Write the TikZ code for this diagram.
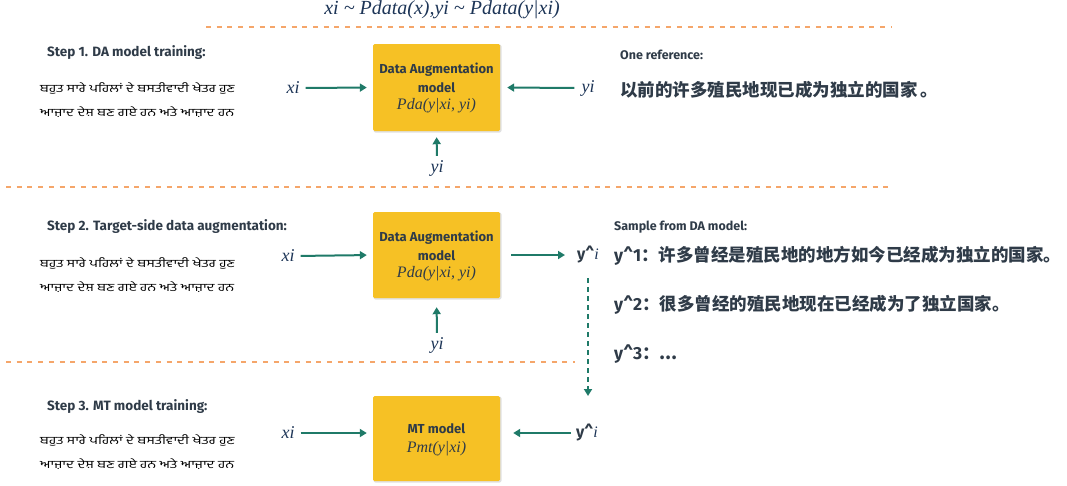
\documentclass[tikz,border=0pt]{standalone}
\usepackage{fontspec}
\setmainfont{Fira Sans}
\newfontfamily\cjk{Noto Sans CJK SC}
\newfontfamily\pa[Script=Gurmukhi,FakeStretch=1.32]{Hind Jalandhar}
\newfontfamily\mi{Liberation Serif}
\usetikzlibrary{arrows.meta}
\definecolor{tgreen}{HTML}{1F7A68}
\definecolor{tyellow}{HTML}{F6C125}
\definecolor{torange}{HTML}{F5A66A}
\definecolor{tdark}{HTML}{2F3B48}
\definecolor{tnavy}{HTML}{1D3557}
\newcommand{\mif}[1]{{\mi\itshape\fontsize{16}{19}\selectfont #1}}
\newcommand{\yhat}{\textbf{y\^{}}{\mi\itshape\color{tnavy}i}}
\begin{document}
\begin{tikzpicture}[x=1pt,y=-1pt,
  box/.style={fill=tyellow,rounded corners=1.5pt,minimum width=127pt,text=tdark,align=center,inner sep=0pt},
  shadowbox/.style={fill=black!12,rounded corners=2pt,minimum width=128pt,inner sep=0pt},
  boxtext/.style={text=tdark,align=center,inner sep=0pt,font=\fontsize{13}{19}\selectfont},
  sep/.style={draw=torange,line width=2pt,dash pattern=on 5pt off 5.7pt},
  arr/.style={draw=tgreen,line width=2pt,-{Triangle[length=7pt,width=8pt]}},
  darr/.style={draw=tgreen,line width=2pt,dash pattern=on 5pt off 4pt,-{Triangle[length=7pt,width=8pt]}},
  steplab/.style={anchor=west,text=tdark,font=\fontsize{13.5}{15}\selectfont\bfseries,inner sep=0pt},
  src/.style={anchor=west,text=black,font=\pa\fontsize{11}{24}\selectfont,align=left,inner sep=0pt},
  var/.style={text=tnavy,font=\mi\itshape\fontsize{18}{20}\selectfont,inner sep=1pt},
  hat/.style={text=tdark,font=\fontsize{16}{20}\selectfont,inner sep=1pt},
  rlab/.style={anchor=west,text=tdark,font=\fontsize{12.5}{14}\selectfont\bfseries,inner sep=0pt},
  zh/.style={anchor=west,text=tdark,font=\cjk\bfseries\fontsize{17.5}{20}\selectfont,inner sep=0pt}]
\useasboundingbox (0,0) rectangle (1067,485);

% formula
\node[text=tnavy,font=\mi\itshape\fontsize{20}{22}\selectfont,inner sep=0pt] (formula) at (442,10) {xi \char"007E{} Pdata(x),yi \char"007E{} Pdata(y|xi)};

% separators
\coordinate (s1a) at (206,27); \coordinate (s1b) at (892,27);
\coordinate (s2a) at (6,187);  \coordinate (s2b) at (892,187);
\coordinate (s3a) at (6,362);  \coordinate (s3b) at (575,362);
\draw[sep] (s1a) -- (s1b);
\draw[sep] (s2a) -- (s2b);
\draw[sep] (s3a) -- (s3b);

% step labels
\node[steplab] (st1) at (47,53) {Step 1. DA model training:};
\node[steplab] (st2) at (47,227) {Step 2. Target-side data augmentation:};
\node[steplab] (st3) at (47,407) {Step 3. MT model training:};

% source sentences
\node[src] (src1) at (40,100) {ਬਹੁਤ ਸਾਰੇ ਪਹਿਲਾਂ ਦੇ ਬਸਤੀਵਾਦੀ ਖੇਤਰ ਹੁਣ\\ਆਜ਼ਾਦ ਦੇਸ਼ ਬਣ ਗਏ ਹਨ ਅਤੇ ਆਜ਼ਾਦ ਹਨ};
\node[src] (src2) at (40,275) {ਬਹੁਤ ਸਾਰੇ ਪਹਿਲਾਂ ਦੇ ਬਸਤੀਵਾਦੀ ਖੇਤਰ ਹੁਣ\\ਆਜ਼ਾਦ ਦੇਸ਼ ਬਣ ਗਏ ਹਨ ਅਤੇ ਆਜ਼ਾਦ ਹਨ};
\node[src] (src3) at (40,452) {ਬਹੁਤ ਸਾਰੇ ਪਹਿਲਾਂ ਦੇ ਬਸਤੀਵਾਦੀ ਖੇਤਰ ਹੁਣ\\ਆਜ਼ਾਦ ਦੇਸ਼ ਬਣ ਗਏ ਹਨ ਅਤੇ ਆਜ਼ਾਦ ਹਨ};

% boxes
\node[shadowbox,minimum height=88pt] (sh1) at (437.5,88.5) {};
\node[box,minimum height=87pt] (da1) at (436.5,87.5) {};
\node[boxtext] (da1t) at (436.5,88) {\textbf{Data Augmentation}\\\textbf{model}\\[-2pt]\mif{Pda(y|xi, yi)}};
\node[shadowbox,minimum height=87pt] (sh2) at (437.5,256) {};
\node[box,minimum height=86pt] (da2) at (436.5,255) {};
\node[boxtext] (da2t) at (436.5,256) {\textbf{Data Augmentation}\\\textbf{model}\\[-2pt]\mif{Pda(y|xi, yi)}};
\node[shadowbox,minimum height=86pt] (sh3) at (437.5,439.5) {};
\node[box,minimum height=85pt] (mt) at (436.5,438.5) {};
\node[boxtext] (mtt) at (436.5,440) {\textbf{MT model}\\\mif{Pmt(y|xi)}};

% step 1 connectors
\node[var] (x1) at (293,88) {xi};
\node[var] (y1r) at (588,88) {yi};
\node[var] (y1b) at (437,168) {yi};
\draw[arr,shorten <=5pt,shorten >=6pt] (x1.east) -- (da1.west);
\draw[arr,shorten <=6pt,shorten >=7pt] (y1r.west) -- (da1.east);
\draw[arr,shorten <=3pt,shorten >=6pt] (y1b.north) -- (da1.south);

% step 2 connectors
\node[var] (x2) at (288,256) {xi};
\node[hat,anchor=west] (yh2) at (576,255) {\yhat};
\node[var] (y2b) at (437,345) {yi};
\draw[arr,shorten <=11pt,shorten >=11pt] (da2.east) -- (da2.east -| yh2.west);
\draw[arr,shorten <=5pt,shorten >=6pt] (x2.east) -- (da2.west);
\draw[arr,shorten <=3pt,shorten >=9pt] (y2b.north) -- (da2.south);

% step 3 connectors
\node[var] (x3) at (288,433) {xi};
\node[hat,anchor=west] (yh3) at (575,433) {\yhat};
\draw[arr,shorten <=5pt,shorten >=6pt] (x3.east) -- (x3.east -| mt.west);
\draw[arr,shorten <=4pt,shorten >=13pt] (yh3.west) -- (yh3.west -| mt.east);
\coordinate (dtop) at (588,278);
\coordinate (dbot) at (588,396);
\draw[darr] (dtop) -- (dbot);

% right side texts
\node[rlab] (oneref) at (620,55) {One reference:};
\node[zh] (ref) at (620,90) {以前的许多殖民地现已成为独立的国家\,。};
\node[rlab] (sample) at (614,227) {Sample from DA model:};
\node[zh] (s1) at (614,256) {{\fontspec{Fira Sans}\bfseries y\^{}1}：许多曾经是殖民地的地方如今已经成为独立的国家。};
\node[zh] (s2) at (614,305) {{\fontspec{Fira Sans}\bfseries y\^{}2}：很多曾经的殖民地现在已经成为了独立国家。};
\node[zh] (s3) at (614,354) {{\fontspec{Fira Sans}\bfseries y\^{}3}：...};
\end{tikzpicture}
\end{document}
